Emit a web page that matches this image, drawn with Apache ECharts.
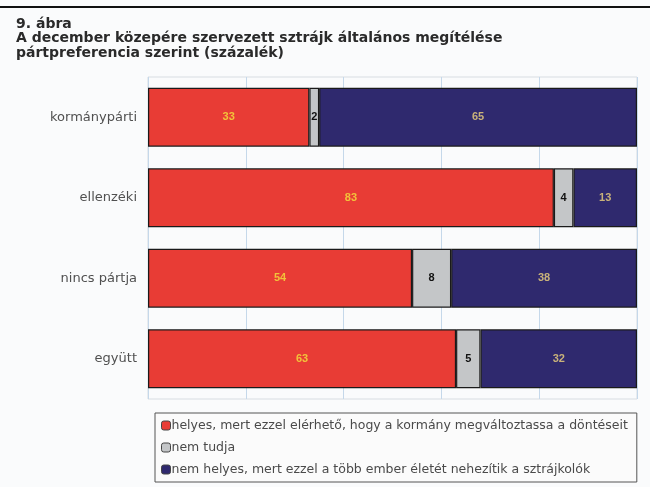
<!DOCTYPE html>
<html><head><meta charset="utf-8">
<script src="https://cdn.jsdelivr.net/npm/echarts@6/dist/echarts.min.js"></script>
<style>html,body{margin:0;padding:0;background:#fafbfc}#c{width:650px;height:487px}</style>
</head><body><div id="c"></div>
<script>
const categories = ['kormánypárti', 'ellenzéki', 'nincs pártja', 'együtt'];
const seriesNames = ['helyes, mert ezzel elérhető, hogy a kormány megváltoztassa a döntéseit', 'nem tudja', 'nem helyes, mert ezzel a több ember életét nehezítik a sztrájkolók'];
const helyes = [33, 83, 54, 63];
const nemTudja = [2, 4, 8, 5];
const nemHelyes = [65, 13, 38, 32];
const xTicks = [0, 20, 40, 60, 80, 100];

const colors = ['#e83c35', '#c4c6c8', '#2f296e'];
const labelColors = ['#f2c23a', '#111111', '#c9b27a'];
const data = [helyes, nemTudja, nemHelyes];

const chart = echarts.init(document.getElementById('c'), null, {renderer: 'canvas'});
chart.setOption({
  backgroundColor: '#fafbfc',
  animation: false,
  title: {
    text: '9. ábra\nA december közepére szervezett sztrájk általános megítélése\npártpreferencia szerint (százalék)',
    left: 11, top: 12,
    textStyle: {fontFamily: 'DejaVu Sans', fontSize: 14, fontWeight: 'bold', color: '#2a2a2a', lineHeight: 14.5}
  },
  graphic: [{type: 'rect', shape: {x: 0, y: 6, width: 650, height: 2}, style: {fill: '#111'}}],
  grid: {left: 148, right: 13, top: 77, height: 322, containLabel: false, show: true, borderColor: '#d8dde2', borderWidth: 1, backgroundColor: 'transparent'},
  xAxis: {
    type: 'value', min: xTicks[0], max: xTicks[xTicks.length - 1], interval: 20,
    axisLabel: {show: false}, axisTick: {show: false},
    axisLine: {show: false},
    splitLine: {show: true, lineStyle: {color: '#c5d8ea', width: 1}}
  },
  yAxis: {
    type: 'category', data: categories, inverse: true,
    axisTick: {show: false}, axisLine: {show: false},
    axisLabel: {fontFamily: 'DejaVu Sans', fontSize: 13, color: '#505050', margin: 11}
  },
  legend: {
    orient: 'vertical', left: 155, top: 413,
    padding: [6, 9, 6, 6], itemGap: 9,
    borderColor: '#555', borderWidth: 1, backgroundColor: '#fbfbfb',
    itemWidth: 9, itemHeight: 9, itemStyle: {borderColor: '#444', borderWidth: 1},
    textStyle: {fontFamily: 'DejaVu Sans', fontSize: 12.5, color: '#4a4a4a', padding: [0, 0, 0, -4]},
    data: seriesNames
  },
  series: seriesNames.map((n, i) => ({
    name: n, type: 'bar', stack: 'total', data: data[i],
    barCategoryGap: '27%',
    itemStyle: {color: colors[i], borderColor: '#1a1a1a', borderWidth: 1.2},
    label: {show: true, position: 'inside', fontFamily: 'Liberation Sans', fontSize: 11, fontWeight: 'bold', color: labelColors[i]}
  }))
});
</script></body></html>
